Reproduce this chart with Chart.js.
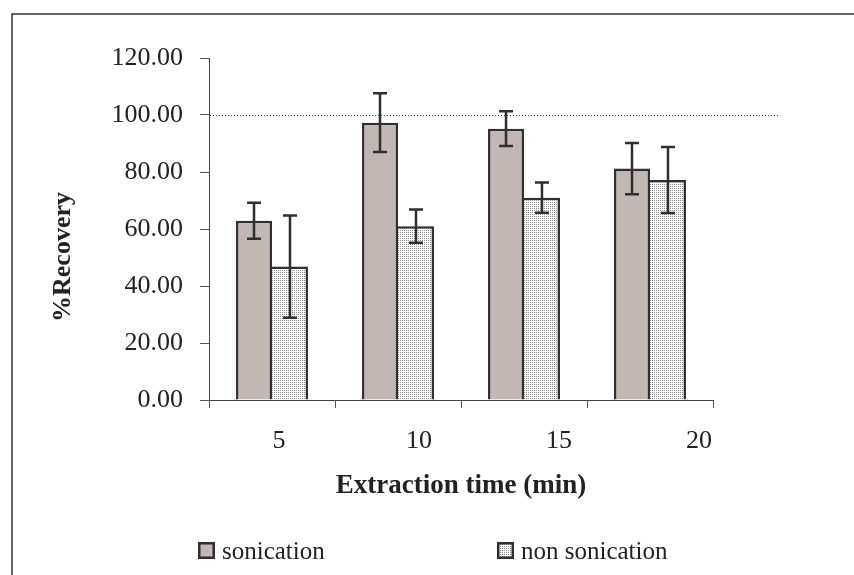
<!DOCTYPE html>
<html>
<head>
<meta charset="utf-8">
<script src="https://cdn.jsdelivr.net/npm/chart.js@4.4.1/dist/chart.umd.min.js"></script>
<style>
  html, body { margin: 0; padding: 0; background: #fff; }
  #wrap { width: 854px; height: 575px; position: relative; }
</style>
</head>
<body>
<div id="wrap"><canvas id="c" width="854" height="575"></canvas></div>
<script>
// Extraction time categories and % recovery (mean ± SD)
const extractionTimes = ['5', '10', '15', '20'];
const timeValues = [5, 10, 15, 20];
const sonication = [62.9, 97.3, 95.2, 81.2];
const sonicationSD = [6.3, 10.3, 6.1, 9.0];
const nonSonication = [46.8, 61.0, 71.0, 77.2];
const nonSonicationSD = [17.9, 5.8, 5.3, 11.6];
const yTicks = [0, 20, 40, 60, 80, 100, 120];
const referenceLevel = 100;

const SERIF = '"Liberation Serif", "Times New Roman", serif';
const INK = '#2f2f2f';

const canvas = document.getElementById('c');
const ctx0 = canvas.getContext('2d');

// fine grey stipple fill for the non-sonication bars
function stipple() {
  const p = document.createElement('canvas');
  p.width = 2; p.height = 2;
  const g = p.getContext('2d');
  g.fillStyle = '#ffffff';
  g.fillRect(0, 0, 2, 2);
  g.fillStyle = '#8e8e8e';
  g.fillRect(0, 0, 1, 1);
  return ctx0.createPattern(p, 'repeat');
}

// outer frame, y-axis title and legend
const decorations = {
  id: 'decorations',
  beforeDraw(chart) {
    const { ctx } = chart;
    ctx.save();
    ctx.fillStyle = '#ffffff';
    ctx.fillRect(0, 0, chart.width, chart.height);
    ctx.strokeStyle = '#333';
    ctx.lineWidth = 1.5;
    ctx.beginPath();
    ctx.moveTo(12, chart.height);
    ctx.lineTo(12, 14);
    ctx.lineTo(chart.width, 14);
    ctx.stroke();
    ctx.restore();
  },
  afterDraw(chart) {
    const { ctx } = chart;
    ctx.save();
    // y-axis title
    ctx.translate(63, 257);
    ctx.rotate(-Math.PI / 2);
    ctx.font = 'bold 26px ' + SERIF;
    ctx.fillStyle = '#222';
    ctx.textAlign = 'center';
    ctx.textBaseline = 'middle';
    ctx.fillText('%Recovery', 0, 0);
    ctx.restore();

    // legend
    const starts = [198, 497];
    chart.data.datasets.forEach((ds, i) => {
      const x = starts[i];
      ctx.save();
      ctx.fillStyle = ds.backgroundColor;
      ctx.fillRect(x, 542, 17, 17);
      ctx.strokeStyle = INK;
      ctx.lineWidth = 2.5;
      ctx.strokeRect(x + 1.25, 543.25, 14.5, 14.5);
      ctx.font = '25px ' + SERIF;
      ctx.fillStyle = '#222';
      ctx.textAlign = 'left';
      ctx.textBaseline = 'alphabetic';
      ctx.fillText(ds.label, x + 24, 559);
      ctx.restore();
    });
  }
};

// dotted 100 % reference line
const referenceLine = {
  id: 'referenceLine',
  beforeDatasetsDraw(chart) {
    const { ctx, chartArea, scales: { y } } = chart;
    const py = Math.round(y.getPixelForValue(referenceLevel)) + 0.5;
    ctx.save();
    ctx.strokeStyle = '#333';
    ctx.lineWidth = 1;
    ctx.setLineDash([1, 2]);
    ctx.beginPath();
    ctx.moveTo(chartArea.left + 1, py);
    ctx.lineTo(chartArea.right + 67, py);
    ctx.stroke();
    ctx.restore();
  }
};

// standard deviation whiskers
const errorBars = {
  id: 'errorBars',
  afterDatasetsDraw(chart) {
    const { ctx, scales: { y } } = chart;
    chart.data.datasets.forEach((ds, i) => {
      const meta = chart.getDatasetMeta(i);
      meta.data.forEach((bar, j) => {
        const v = ds.data[j], e = ds.errors[j];
        const top = y.getPixelForValue(v + e);
        const bot = y.getPixelForValue(v - e);
        ctx.save();
        ctx.strokeStyle = INK;
        ctx.lineWidth = 2.5;
        ctx.beginPath();
        ctx.moveTo(bar.x, top); ctx.lineTo(bar.x, bot);
        ctx.moveTo(bar.x - 7, top); ctx.lineTo(bar.x + 7, top);
        ctx.moveTo(bar.x - 7, bot); ctx.lineTo(bar.x + 7, bot);
        ctx.stroke();
        ctx.restore();
      });
    });
  }
};

new Chart(canvas, {
  type: 'bar',
  data: {
    labels: extractionTimes,
    datasets: [
      {
        label: 'sonication',
        data: sonication,
        errors: sonicationSD,
        backgroundColor: '#c1b7b4',
        borderColor: INK,
        borderWidth: { top: 2.5, left: 2.5, right: 2.5, bottom: 0 },
        borderSkipped: 'start'
      },
      {
        label: 'non sonication',
        data: nonSonication,
        errors: nonSonicationSD,
        backgroundColor: stipple(),
        borderColor: INK,
        borderWidth: { top: 2.5, left: 0, right: 2.5, bottom: 0 },
        borderSkipped: 'start'
      }
    ]
  },
  options: {
    responsive: false,
    devicePixelRatio: 1,
    animation: false,
    layout: { padding: { top: 58, left: 0, right: 141, bottom: 73 } },
    datasets: { bar: { categoryPercentage: 0.571, barPercentage: 1.0 } },
    plugins: {
      legend: { display: false },
      tooltip: { enabled: false }
    },
    scales: {
      x: {
        type: 'category',
        position: 'bottom',
        weight: 0,
        offset: true,
        grid: {
          offset: true,
          drawOnChartArea: false,
          drawTicks: true,
          tickLength: 8,
          color: '#555',
          lineWidth: 1
        },
        border: { display: true, color: '#444', width: 1 },
        ticks: { display: false },
        afterFit(scale) {
          scale.height = 0;
          scale.paddingLeft = 0;
          scale.paddingRight = 0;
        }
      },
      xLabels: {
        type: 'linear',
        position: 'bottom',
        weight: 1,
        offset: false,
        min: 2.5,
        max: 20.5,
        grid: { display: false, drawTicks: false, offset: false },
        border: { display: false },
        afterBuildTicks(scale) {
          scale.ticks = timeValues.map(v => ({ value: v }));
        },
        ticks: {
          padding: 26,
          color: '#222',
          font: { family: SERIF, size: 26 },
          maxRotation: 0,
          autoSkip: false,
          callback: (v, i) => extractionTimes[i]
        },
        title: {
          display: true,
          text: 'Extraction time (min)',
          color: '#222',
          font: { family: SERIF, size: 27, weight: 'bold' },
          padding: { top: 0, bottom: 0 }
        },
        afterFit(scale) {
          scale.height = 102;
          scale.paddingLeft = 0;
          scale.paddingRight = 0;
        }
      },
      y: {
        type: 'linear',
        min: 0,
        max: 120,
        grid: {
          drawOnChartArea: false,
          drawTicks: true,
          tickLength: 9,
          color: '#555',
          lineWidth: 1
        },
        border: { display: true, color: '#444', width: 1 },
        afterBuildTicks(scale) {
          scale.ticks = yTicks.map(v => ({ value: v }));
        },
        ticks: {
          padding: 17,
          color: '#222',
          font: { family: SERIF, size: 26 },
          callback: v => Number(v).toFixed(2)
        },
        afterFit(scale) {
          scale.width = 209;
          scale.paddingTop = 0;
          scale.paddingBottom = 0;
        }
      }
    }
  },
  plugins: [decorations, referenceLine, errorBars]
});
</script>
</body>
</html>
